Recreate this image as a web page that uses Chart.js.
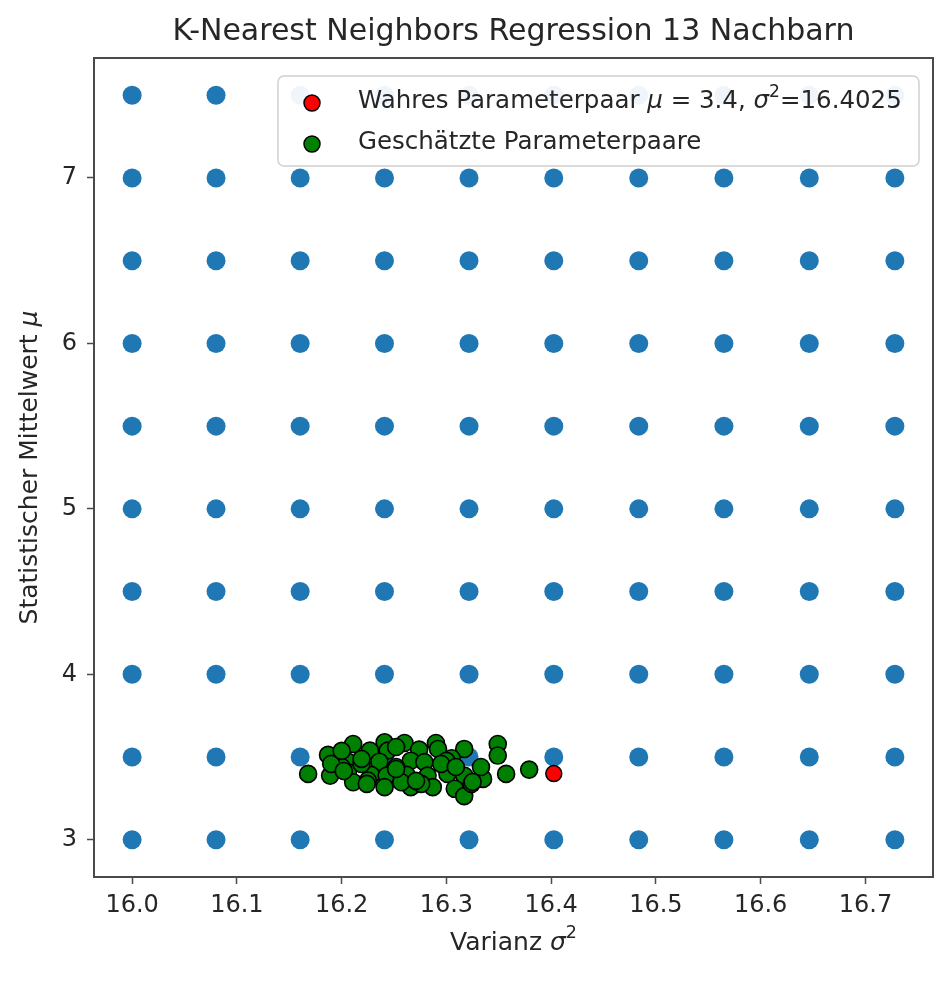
<!DOCTYPE html>
<html>
<head>
<meta charset="utf-8">
<script src="https://cdn.jsdelivr.net/npm/chart.js@4.4.1/dist/chart.umd.min.js"></script>
<style>
  html, body { margin: 0; padding: 0; background: #fff; }
  #wrap { width: 950px; height: 982px; }
</style>
</head>
<body>
<div id="wrap"><canvas id="graphicKnn" width="950" height="982"></canvas></div>
<script>
// KNN Regression - Gitter und geschaetzte Parameterpaare

// --- Gitter (sigma 4.00 .. 4.09 quadriert)
const gridVarianz = [16.0, 16.0801, 16.1604, 16.2409, 16.3216, 16.4025, 16.4836, 16.5649, 16.6464, 16.7281];
const gridMittelwert = [3.0, 3.5, 4.0, 4.5, 5.0, 5.5, 6.0, 6.5, 7.0, 7.5];

// --- Wahres Parameterpaar
const wahrVarianz = [16.4025];
const wahrMittelwert = [3.4];

// --- Geschaetzte Parameterpaare
const schaetzVarianz = [
  16.211, 16.241, 16.260, 16.290, 16.317, 16.349,
  16.187, 16.227, 16.244, 16.274, 16.292, 16.349,
  16.206, 16.236, 16.266, 16.279, 16.305,
  16.168, 16.189, 16.206, 16.228, 16.243, 16.262, 16.282, 16.301, 16.317, 16.335, 16.357, 16.379,
  16.211, 16.241, 16.266, 16.287, 16.308, 16.225, 16.257,
  16.317,
  16.200, 16.252, 16.276, 16.324, 16.219, 16.300, 16.333,
  16.219, 16.252, 16.295, 16.190, 16.271, 16.224, 16.309, 16.252, 16.200, 16.325, 16.202
];
const schaetzMittelwert = [
  3.579, 3.589, 3.585, 3.585, 3.549, 3.579,
  3.513, 3.539, 3.539, 3.545, 3.549, 3.509,
  3.472, 3.472, 3.478, 3.469, 3.493,
  3.398, 3.388, 3.408, 3.392, 3.388, 3.392, 3.388, 3.398, 3.388, 3.368, 3.398, 3.424,
  3.348, 3.318, 3.318, 3.318, 3.308, 3.358, 3.348,
  3.264,
  3.440, 3.440, 3.338, 3.338, 3.458, 3.477, 3.440,
  3.489, 3.428, 3.459, 3.459, 3.356, 3.338, 3.440, 3.561, 3.537, 3.350, 3.416
];

// --- Achsen
const xTicks = [16.0, 16.1, 16.2, 16.3, 16.4, 16.5, 16.6, 16.7];
const yTicks = [3, 4, 5, 6, 7];
const xMin = 15.9636, xMax = 16.7645;
const yMin = 2.775, yMax = 7.725;

const FONT = "'DejaVu Sans', sans-serif";
const TXT = '#262626';
const AXC = '#4a4a4a';

// --- Daten fuer Chart.js
let gridPoints = [];
gridVarianz.forEach(function(vx) {
  gridMittelwert.forEach(function(vy) {
    gridPoints.push({x: vx, y: vy});
  });
});
let wahrPoints = wahrVarianz.map(function(v, i) { return {x: v, y: wahrMittelwert[i]}; });
let schaetzPoints = schaetzVarianz.map(function(v, i) { return {x: v, y: schaetzMittelwert[i]}; });

// segmente: [text, italic, superscript]
function drawRich(ctx, parts, x, y, size) {
  let cx = x;
  parts.forEach(function(p) {
    let fs = p[2] ? size * 0.7 : size;
    ctx.font = (p[1] ? 'italic ' : '') + fs + 'px ' + FONT;
    let dy = p[2] ? -size * 0.38 : 0;
    ctx.fillText(p[0], cx, y + dy);
    cx += ctx.measureText(p[0]).width;
  });
  return cx - x;
}
function richWidth(ctx, parts, size) {
  let w = 0;
  parts.forEach(function(p) {
    let fs = p[2] ? size * 0.7 : size;
    ctx.font = (p[1] ? 'italic ' : '') + fs + 'px ' + FONT;
    w += ctx.measureText(p[0]).width;
  });
  return w;
}

const decoPlugin = {
  id: 'deco',
  afterDraw: function(chart) {
    const ctx = chart.ctx;
    const a = chart.chartArea;
    ctx.save();
    // rahmen
    ctx.strokeStyle = AXC;
    ctx.lineWidth = 2;
    ctx.strokeRect(a.left, a.top, a.right - a.left, a.bottom - a.top);

    // titel
    ctx.fillStyle = TXT;
    ctx.textBaseline = 'middle';
    ctx.textAlign = 'center';
    ctx.font = '30px ' + FONT;
    ctx.fillText('K-Nearest Neighbors Regression 13 Nachbarn', (a.left + a.right) / 2, 32);

    // x label
    ctx.textAlign = 'left';
    let xl = [['Varianz ', false, false], ['σ', true, false], ['2', false, true]];
    let w = richWidth(ctx, xl, 25);
    drawRich(ctx, xl, (a.left + a.right) / 2 - w / 2, 943, 25);

    // y label
    ctx.save();
    ctx.translate(30, (a.top + a.bottom) / 2);
    ctx.rotate(-Math.PI / 2);
    let yl = [['Statistischer Mittelwert ', false, false], ['μ', true, false]];
    w = richWidth(ctx, yl, 25);
    drawRich(ctx, yl, -w / 2, 0, 25);
    ctx.restore();

    // legende
    const lx = 278, ly = 76, lw = 641, lh = 90;
    ctx.fillStyle = 'rgba(255,255,255,0.93)';
    ctx.strokeStyle = '#d0d0d0';
    ctx.lineWidth = 1.5;
    ctx.beginPath();
    ctx.roundRect(lx, ly, lw, lh, 6);
    ctx.fill();
    ctx.stroke();

    ctx.lineWidth = 1.5;
    ctx.strokeStyle = '#000';
    ctx.fillStyle = 'red';
    ctx.beginPath(); ctx.arc(312, 103, 8, 0, Math.PI * 2); ctx.fill(); ctx.stroke();
    ctx.fillStyle = 'green';
    ctx.beginPath(); ctx.arc(312, 144, 8, 0, Math.PI * 2); ctx.fill(); ctx.stroke();

    ctx.fillStyle = TXT;
    let l1 = [['Wahres Parameterpaar ', false, false], ['μ', true, false], [' = 3.4, ', false, false],
              ['σ', true, false], ['2', false, true], ['=16.4025', false, false]];
    drawRich(ctx, l1, 358, 102, 24.5);
    drawRich(ctx, [['Geschätzte Parameterpaare', false, false]], 358, 143, 24.5);
    ctx.restore();
  }
};

let chart1;
function drawKnnChart() {
  var ctx = document.getElementById('graphicKnn').getContext('2d');
  if (chart1) {
    chart1.destroy();
  }
  chart1 = new Chart(ctx, {
    type: 'scatter',
    data: {
      datasets: [
        {
          label: 'Gitter',
          data: gridPoints,
          backgroundColor: '#1f77b4',
          borderWidth: 0,
          pointRadius: 9.5,
          order: 3
        },
        {
          label: 'Wahres Parameterpaar',
          data: wahrPoints,
          backgroundColor: 'red',
          borderColor: '#000',
          borderWidth: 1.5,
          pointRadius: 8,
          order: 2
        },
        {
          label: 'Geschätzte Parameterpaare',
          data: schaetzPoints,
          backgroundColor: 'green',
          borderColor: '#000',
          borderWidth: 1.6,
          pointRadius: 8.5,
          order: 1
        }
      ]
    },
    options: {
      responsive: false,
      animation: false,
      events: [],
      layout: { padding: { left: 0, right: 17, top: 58, bottom: 0 } },
      plugins: {
        legend: { display: false },
        title: { display: false },
        tooltip: { enabled: false }
      },
      scales: {
        x: {
          type: 'linear',
          min: xMin,
          max: xMax,
          afterBuildTicks: function(s) { s.ticks = xTicks.map(function(v) { return {value: v}; }); },
          afterFit: function(s) { s.height = 105; },
          ticks: {
            autoSkip: false,
            maxRotation: 0,
            padding: 7,
            color: TXT,
            font: { family: FONT, size: 24 },
            callback: function(v) { return Number(v).toFixed(1); }
          },
          grid: { drawOnChartArea: false, drawTicks: true, tickLength: 7, tickColor: AXC, tickWidth: 1.5 },
          border: { display: true, color: AXC, width: 2 }
        },
        y: {
          type: 'linear',
          min: yMin,
          max: yMax,
          afterBuildTicks: function(s) { s.ticks = yTicks.map(function(v) { return {value: v}; }); },
          afterFit: function(s) { s.width = 94; },
          ticks: {
            autoSkip: false,
            padding: 10,
            color: TXT,
            font: { family: FONT, size: 24 },
            callback: function(v) { return String(v); }
          },
          grid: { drawOnChartArea: false, drawTicks: true, tickLength: 7, tickColor: AXC, tickWidth: 1.5 },
          border: { display: true, color: AXC, width: 2 }
        }
      }
    },
    plugins: [decoPlugin]
  });
}

drawKnnChart();
</script>
</body>
</html>
